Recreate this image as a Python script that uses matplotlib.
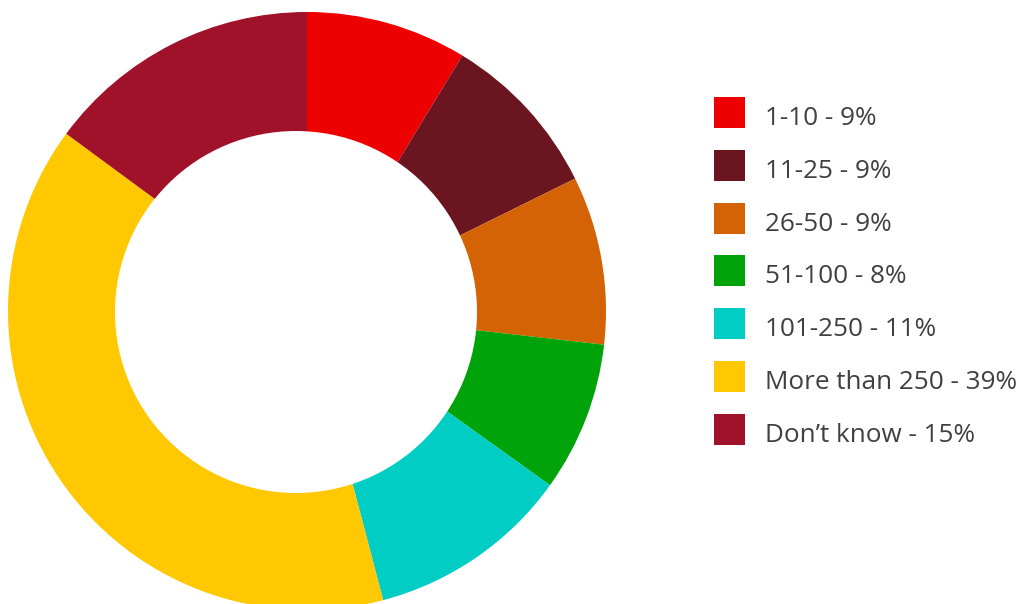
## Donut chart of group sizes with a hand-placed legend on the right.

import matplotlib.pyplot as plt
from matplotlib.patches import Rectangle, Circle

categories = ["1-10", "11-25", "26-50", "51-100", "101-250", "More than 250", "Don\u2019t know"]
shares = [8.7, 9.0, 9.1, 8.1, 11.0, 39.2, 14.9]
colors = ["#ee0000", "#6b1520", "#d46306", "#00a30a", "#00cdc4", "#ffc800", "#a0112a"]

W, H = 1024, 604

fig = plt.figure(figsize=(W / 100, H / 100), dpi=100)
ax = fig.add_axes([0, 0, 1, 1])
ax.set_aspect("equal")
ax.axis("off")

# pie in pixel coordinates, hole punched afterwards (it sits a bit left of centre)
ax.pie(shares, colors=colors, startangle=90, counterclock=False,
       radius=299, center=(307, H - 311),
       wedgeprops=dict(linewidth=0))
ax.add_patch(Circle((296, H - 312), 181, facecolor="white", edgecolor="none", zorder=5))
ax.set_xlim(0, W)
ax.set_ylim(0, H)

# legend
y0 = 112.5
step = 52.8
for i, (cat, val, col) in enumerate(zip(categories, shares, colors)):
    yc = y0 + i * step
    ax.add_patch(Rectangle((714, H - yc - 15.5), 31, 31, facecolor=col, edgecolor="none"))
    ax.text(765, H - (yc + 12.5), f"{cat} - {round(val)}%", va="baseline", ha="left",
            fontsize=18.8, family="Open Sans", color="#404040")

fig.savefig("out.png", dpi=100)
